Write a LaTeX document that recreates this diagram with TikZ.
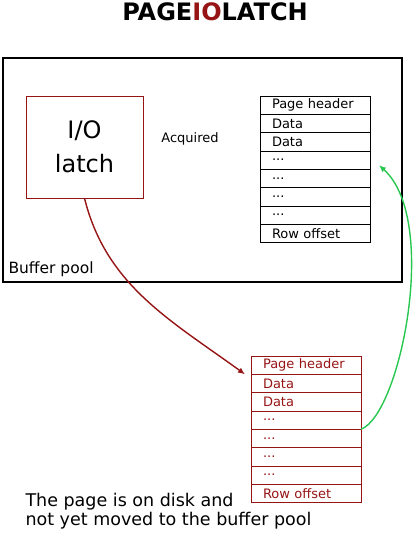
\documentclass[tikz,border=0pt]{standalone}
\usepackage{fontspec}
\setmainfont{DejaVu Sans}
\usepackage{xcolor}
\usetikzlibrary{arrows.meta,positioning}
\definecolor{latchred}{RGB}{150,20,20}
\definecolor{movegreen}{RGB}{40,200,80}

\begin{document}
\begin{tikzpicture}[x=1pt,y=-1pt,
	pagerow/.style={draw,minimum width=110pt,minimum height=18.3pt,inner xsep=12pt,inner ysep=0pt,outer sep=0pt,text width=86pt,align=left,font=\fontsize{13}{14}\selectfont},
]
	\useasboundingbox (0,0) rectangle (419,533);

	% title
	\node[font=\bfseries\fontsize{24}{26}\selectfont] (title) at (215,12) {PAGE\textcolor{latchred}{IO}LATCH};

	% buffer pool
	\node[draw,line width=2.4pt,minimum width=399pt,minimum height=224pt,anchor=north west,inner sep=0pt] (pool) at (2,57) {};
	\node[anchor=base west,font=\fontsize{15.5}{16}\selectfont] (poollbl) at (5,273) {Buffer pool};

	% latch
	\node[draw=latchred,minimum width=117pt,minimum height=102pt,align=center,font=\fontsize{24}{34}\selectfont] (latch) at (84.5,147) {I/O\\latch};
	\node[font=\fontsize{13}{14}\selectfont] (acq) at (190,139) {Acquired};

	% page in the buffer pool
	\node[pagerow,anchor=north] (up1) at (315,96) {Page header};
	\node[pagerow,below=0pt of up1] (up2) {Data};
	\node[pagerow,below=0pt of up2] (up3) {Data};
	\node[pagerow,below=0pt of up3] (up4) {...};
	\node[pagerow,below=0pt of up4] (up5) {...};
	\node[pagerow,below=0pt of up5] (up6) {...};
	\node[pagerow,below=0pt of up6] (up7) {...};
	\node[pagerow,below=0pt of up7] (up8) {Row offset};

	% page on disk
	\begin{scope}[every node/.append style={draw=latchred,text=latchred}]
	\node[pagerow,anchor=north] (dn1) at (306,356) {Page header};
	\node[pagerow,below=0pt of dn1] (dn2) {Data};
	\node[pagerow,below=0pt of dn2] (dn3) {Data};
	\node[pagerow,below=0pt of dn3] (dn4) {...};
	\node[pagerow,below=0pt of dn4] (dn5) {...};
	\node[pagerow,below=0pt of dn5] (dn6) {...};
	\node[pagerow,below=0pt of dn6] (dn7) {...};
	\node[pagerow,below=0pt of dn7] (dn8) {Row offset};
	\end{scope}

	\coordinate (rdend) at ([xshift=-6pt]dn1.south west);
	\coordinate (grend) at ([xshift=9pt,yshift=4pt]up4.south east);

	\draw[latchred,line width=1.4pt,-{Latex[length=7pt,width=6pt]}] (latch.south) .. controls (106,285) and (170,320) .. (rdend);
	\draw[movegreen,line width=1.4pt,-{Latex[length=7pt,width=6pt]}] (dn4.south east) .. controls (400,415) and (440,220) .. (grend);

	\node[anchor=base west,align=left,font=\fontsize{17.5}{19}\selectfont] (note) at (22,525) {The page is on disk and\\not yet moved to the buffer pool};
\end{tikzpicture}
\end{document}
